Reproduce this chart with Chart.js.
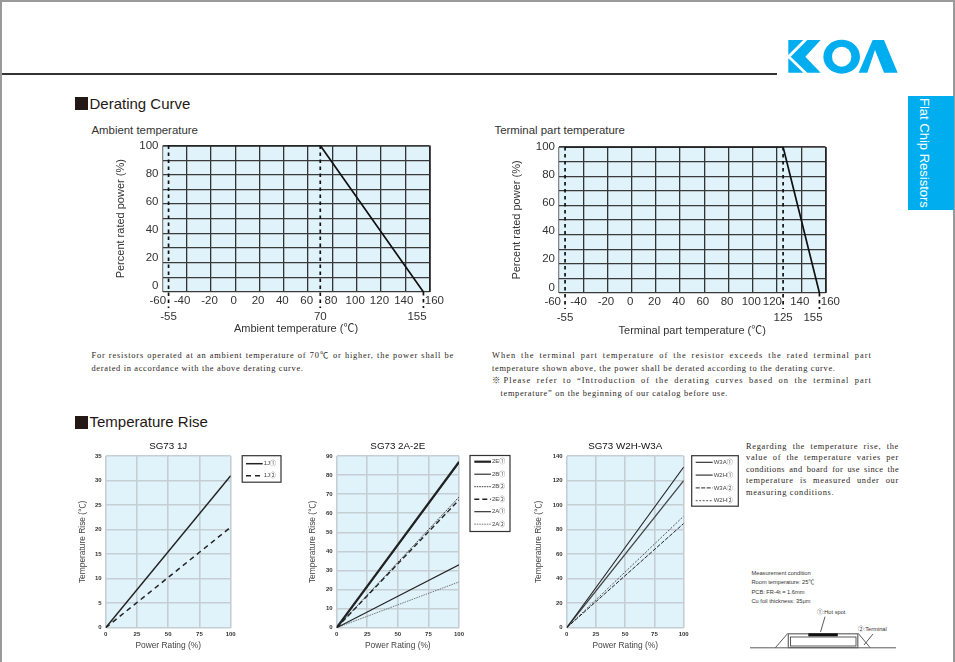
<!DOCTYPE html>
<html>
<head>
<meta charset="utf-8">
<title>Flat Chip Resistors</title>
<script src="https://cdn.jsdelivr.net/npm/chart.js@4"></script>
<style>
  html, body { margin: 0; padding: 0; background: #fff; }
  body { position: relative; width: 955px; height: 662px; overflow: hidden; color: #231815;
         font-family: "Liberation Sans", "Noto Sans CJK JP", sans-serif; }
  .abs { position: absolute; }
  canvas { position: absolute; }
  .edge { position: absolute; background: #9a9a9a; }
  .heading { position: absolute; left: 89.5px; font-size: 15px; line-height: 16px; white-space: nowrap; }
  .square { position: absolute; left: 75px; width: 13px; height: 13px; background: #231815; }
  .sub { position: absolute; font-size: 11.4px; line-height: 13px; white-space: nowrap; color: #333; }
  .note { position: absolute; font-family: "Liberation Serif", "Noto Sans CJK JP", serif; font-size: 8.4px;
          line-height: 11px; white-space: nowrap; color: #2b2622; letter-spacing: .68px; }
  .just { text-align: justify; text-align-last: justify; text-justify: inter-word; white-space: normal; }
  .tab { position: absolute; left: 908px; top: 96px; width: 46px; height: 114px; background: #00aeef; }
  .tab span { position: absolute; left: 7px; top: 2px; writing-mode: vertical-rl; color: #fff; font-size: 13px;
              line-height: 18px; white-space: nowrap; }
</style>
</head>
<body>
<div class="edge" style="left:0;top:0;width:955px;height:2px"></div>
<div class="edge" style="left:0;top:0;width:2px;height:662px"></div>
<div class="edge" style="left:953px;top:0;width:2px;height:662px"></div>
<div class="abs" style="left:2px;top:73px;width:775px;height:2px;background:#333"></div>

<svg class="abs" style="left:760px;top:20px" width="195" height="200" viewBox="0 0 585 600">
  <g fill="#00aeef">
    <polygon points="85,60 130,60 85,105"/>
    <polygon points="85,115 130,158 85,158"/>
    <polygon points="142,60 182,60 136,110 182,158 142,158 92,110"/>
    <path fill-rule="evenodd" d="M190,110a55,51 0 1,0 110,0a55,51 0 1,0 -110,0z M216,110a29,30 0 1,1 58,0a29,30 0 1,1 -58,0z"/>
    <polygon points="296,158 338,60 372,60 413,158 372,158 345,90 322,158"/>
  </g>
</svg>
<div class="tab"><span>Flat Chip Resistors</span></div>

<div class="square" style="top:97px"></div>
<div class="heading" style="top:96px">Derating Curve</div>
<div class="sub" style="left:91.5px;top:124px">Ambient temperature</div>
<div class="sub" style="left:494.5px;top:124px">Terminal part temperature</div>

<div class="note just" style="left:91.5px;top:349.5px;width:362.5px;letter-spacing:.8px">For resistors operated at an ambient temperature of 70℃ or higher, the power shall be</div>
<div class="note" style="left:91.5px;top:362.5px">derated in accordance with the above derating curve.</div>
<div class="note just" style="left:492px;top:349.5px;width:380px;letter-spacing:1.05px">When the terminal part temperature of the resistor exceeds the rated terminal part</div>
<div class="note" style="left:492px;top:362.5px">temperature shown above, the power shall be derated according to the derating curve.</div>
<div class="note just" style="left:492px;top:374.5px;width:380px;letter-spacing:1.05px">※Please refer to “Introduction of the derating curves based on the terminal part</div>
<div class="note" style="left:500.5px;top:387.5px">temperature” on the beginning of our catalog before use.</div>

<div class="square" style="top:415.5px"></div>
<div class="heading" style="top:414px">Temperature Rise</div>

<div class="note just" style="left:746px;top:440.5px;width:153px;letter-spacing:.7px">Regarding the temperature rise, the</div>
<div class="note just" style="left:746px;top:452px;width:153px;letter-spacing:.7px">value of the temperature varies per</div>
<div class="note just" style="left:746px;top:463.5px;width:153px;letter-spacing:.4px">conditions and board for use since the</div>
<div class="note just" style="left:746px;top:475px;width:153px;letter-spacing:.7px">temperature is measured under our</div>
<div class="note" style="left:746px;top:486.5px">measuring conditions.</div>

<svg class="abs" style="left:740px;top:560px" width="215" height="102" viewBox="740 560 215 102"
     font-family="Liberation Sans, Noto Sans CJK JP, sans-serif" font-size="5.7" fill="#333">
  <text x="751.5" y="575.3">Measurement condition</text>
  <text x="751.5" y="584.3">Room temperature: 25℃</text>
  <text x="751.5" y="593.6">PCB: FR-4t = 1.6mm</text>
  <text x="751.5" y="602.6">Cu foil thickness: 35μm</text>
  <text x="817" y="613.7">①:Hot spot</text>
  <text x="858" y="631">②:Terminal</text>
  <g fill="none" stroke="#333" stroke-width=".8">
    <line x1="750" y1="647.8" x2="896" y2="647.8"/>
    <line x1="787.7" y1="633.5" x2="775.5" y2="647.5"/>
    <line x1="858.3" y1="633.5" x2="870" y2="647.5"/>
    <line x1="825" y1="616.7" x2="820.5" y2="632"/>
    <line x1="873" y1="634" x2="864" y2="645"/>
    <rect x="788.3" y="633.8" width="69.5" height="13.8" stroke="#666" stroke-width="1.2"/>
    <rect x="790.5" y="637" width="65.5" height="9" stroke="#333"/>
  </g>
  <rect x="808.3" y="633.3" width="29.5" height="3" fill="#111"/>
</svg>

<canvas id="ambientChart" style="left:100px;top:135px" width="350" height="210"></canvas>
<canvas id="terminalChart" style="left:500px;top:135px" width="345" height="210"></canvas>
<canvas id="chart1J" style="left:70px;top:438px" width="215" height="216"></canvas>
<canvas id="chart2A" style="left:300px;top:438px" width="215" height="216"></canvas>
<canvas id="chartW" style="left:530px;top:438px" width="212" height="216"></canvas>

<script>
// Derating curves
const tempTicks = [-60, -40, -20, 0, 20, 40, 60, 80, 100, 120, 140, 160];
const ambientTickLabels = ["-60  ", "-40  ", "-20", "0", "20", "40", "60", "80", "100", "120", "140", "    160"];
const terminalTickLabels = ["-60   ", "-40  ", "-20", "0", "20", "40", "60", "80", "100", "120  ", "140", "    160"];
const powerLabelTicks = [0, 20, 40, 60, 80, 100];

const ambientRatedX = [-55, 70, 155];
const terminalRatedX = [-55, 125, 155];
const ratedPower = [100, 100, 0];
const ambientMarkLabels = ["-55", "70", "155    "];
const terminalMarkLabels = ["-55", "125", "155    "];
// how far the dashed guides run: top and bottom of each guide
const guideTop = [100, 100, 0];
const guideBottom = [-11, -11, -11];

// Temperature rise
const powerRating = [0, 100];
const rise1J = { "1J①": [0, 31], "1J②": [0, 20.5] };
const rise2A = { "2E①": [0, 87], "2B①": [0, 86.5], "2B②": [0, 68.5], "2E②": [0, 67], "2A①": [0, 33], "2A②": [0, 24] };
const riseW = { "W3A①": [0, 131], "W2H①": [0, 120], "W3A②": [0, 85], "W2H②": [0, 91] };

const inkColor = "#333";
const plotFill = "#e0f2fa";
const sans = "'Liberation Sans', 'Noto Sans CJK JP', sans-serif";

const plotBackground = {
    id: "plotBackground",
    beforeDraw(chart) {
        const a = chart.chartArea;
        chart.ctx.save();
        chart.ctx.fillStyle = plotFill;
        chart.ctx.fillRect(a.left, a.top, a.width, a.height);
        chart.ctx.restore();
    }
};

// the boxed legend sits beside the plot, at the top
const boxLegend = {
    id: "boxLegend",
    afterDraw(chart, args, opts) {
        if (!opts.box) return;
        const ctx = chart.ctx;
        const b = opts.box;
        ctx.save();
        ctx.strokeStyle = "#333";
        ctx.lineWidth = 1.2;
        ctx.strokeRect(b[0], b[1], b[2], b[3]);
        ctx.font = "6px " + sans;
        ctx.textBaseline = "middle";
        chart.data.datasets.forEach(function(ds, i) {
            const y = opts.rowY + i * opts.rowStep;
            ctx.strokeStyle = ds.borderColor;
            ctx.lineWidth = ds.borderWidth;
            ctx.setLineDash(ds.borderDash || []);
            ctx.beginPath();
            ctx.moveTo(opts.lineX[0], y);
            ctx.lineTo(opts.lineX[1], y);
            ctx.stroke();
            ctx.setLineDash([]);
            ctx.fillStyle = "#444";
            ctx.fillText(ds.label, opts.lineX[1] + 1, y);
        });
        ctx.restore();
    }
};

Chart.register(plotBackground, boxLegend);

function fixWidth(w) {
    return function(scale) {
        scale.width = w;
        scale.paddingLeft = scale.paddingRight = scale.paddingTop = scale.paddingBottom = 0;
    };
}

function fixHeight(h) {
    return function(scale) {
        scale.height = h;
        scale.paddingLeft = scale.paddingRight = scale.paddingTop = scale.paddingBottom = 0;
    };
}

function setTicks(values) {
    return function(scale) {
        scale.ticks = values.map(v => ({ value: v }));
    };
}

function deratingChart(id, s) {
    const line = s.ratedX.map((x, i) => ({ x: x, y: ratedPower[i] }));
    const guides = s.ratedX.map(function(x, i) {
        return {
            data: [{ x: x, y: guideTop[i] }, { x: x, y: guideBottom[i] }],
            borderColor: "#111", borderWidth: 1.7, borderDash: [3.5, 3.5],
            pointRadius: 0, clip: false
        };
    });
    new Chart(document.getElementById(id), {
        type: "line",
        data: {
            datasets: [{ data: line, borderColor: "#111", borderWidth: 1.7, pointRadius: 0 }].concat(guides)
        },
        options: {
            responsive: false,
            animation: false,
            layout: { padding: s.padding },
            plugins: { legend: { display: false }, tooltip: { enabled: false } },
            scales: {
                x: {
                    type: "linear", min: -60, max: 160, weight: 0,
                    afterBuildTicks: setTicks(tempTicks),
                    afterFit: fixHeight(16),
                    border: { display: false },
                    grid: {
                        drawTicks: false,
                        color: ctx => ctx.tick.value === -60 ? "#888" : (ctx.tick.value === 160 ? "#222" : "#333"),
                        lineWidth: ctx => ctx.tick.value === 160 ? 1.8 : 1.3
                    },
                    ticks: {
                        padding: 2, maxRotation: 0, autoSkip: false, color: inkColor,
                        font: { family: sans, size: 11.5 }, labelOffset: -1.5,
                        callback: (v, i) => s.tickLabels[i]
                    }
                },
                x2: {
                    type: "linear", axis: "x", position: "bottom", min: -60, max: 160, weight: 1,
                    afterBuildTicks: setTicks(s.ratedX),
                    afterFit: fixHeight(s.x2Height),
                    border: { display: false },
                    grid: { display: false, drawTicks: false },
                    ticks: {
                        padding: 2, maxRotation: 0, autoSkip: false, color: inkColor,
                        font: { family: sans, size: 11.5 },
                        callback: (v, i) => s.markLabels[i]
                    },
                    title: {
                        display: true, text: s.xTitle, color: inkColor, padding: 0,
                        font: { family: sans, size: 11 }
                    }
                },
                y: {
                    type: "linear", min: 0, max: 100, weight: 0,
                    afterFit: fixWidth(0),
                    border: { display: false },
                    grid: {
                        drawTicks: false,
                        color: "#3a3a3a",
                        lineWidth: ctx => ctx.tick.value === 100 ? 1.7 : 1.3
                    },
                    ticks: { stepSize: 10, display: false }
                },
                yLabels: {
                    type: "linear", axis: "y", position: "left", min: s.labelRange[0], max: s.labelRange[1], weight: 1,
                    afterBuildTicks: setTicks(powerLabelTicks),
                    afterFit: fixWidth(s.yWidth),
                    border: { display: false },
                    grid: { display: false, drawTicks: false },
                    ticks: {
                        padding: 4, autoSkip: false, color: inkColor,
                        font: { family: sans, size: 11.5 },
                        callback: v => String(v)
                    },
                    title: {
                        display: true, text: "Percent rated power (%)", color: inkColor, padding: 0,
                        font: { family: sans, size: 11 }
                    }
                }
            }
        }
    });
}

function riseChart(id, s) {
    const datasets = Object.keys(s.series).map(function(name, i) {
        return Object.assign({
            label: name,
            data: s.series[name].map((v, j) => ({ x: powerRating[j], y: v })),
            pointRadius: 0
        }, s.styles[i]);
    });
    new Chart(document.getElementById(id), {
        type: "line",
        data: { datasets: datasets },
        options: {
            responsive: false,
            animation: false,
            layout: { padding: s.padding },
            plugins: {
                legend: { display: false },
                tooltip: { enabled: false },
                boxLegend: s.legend,
                title: {
                    display: true, text: s.title, color: "#111", fullSize: false,
                    padding: { top: 0, bottom: s.titleGap },
                    font: { family: sans, size: 9.8, weight: "normal", lineHeight: 1.2 }
                }
            },
            scales: {
                x: {
                    type: "linear", min: 0, max: 100,
                    afterFit: fixHeight(23.5),
                    border: { display: false },
                    grid: { drawTicks: false, color: "#c5ced3", lineWidth: 1.6 },
                    ticks: {
                        stepSize: 25, padding: 3, maxRotation: 0, color: "#333",
                        font: { family: sans, size: 6, weight: "bold" }
                    },
                    title: {
                        display: true, text: "Power Rating (%)", color: "#444", padding: 0,
                        font: { family: sans, size: 8.4 }
                    }
                },
                y: {
                    type: "linear", min: 0, max: s.yMax,
                    afterFit: fixWidth(s.yWidth),
                    border: { display: false },
                    grid: { drawTicks: false, color: "#c5ced3", lineWidth: 1.6 },
                    ticks: {
                        stepSize: s.yStep, padding: 4, color: "#333",
                        font: { family: sans, size: 6, weight: "bold" }
                    },
                    title: {
                        display: true, text: "Temperature Rise (℃)", color: "#444", padding: 0,
                        font: { family: sans, size: 8.4 }
                    }
                }
            }
        }
    });
}

deratingChart("ambientChart", {
    ratedX: ambientRatedX,
    tickLabels: ambientTickLabels,
    markLabels: ambientMarkLabels,
    xTitle: "Ambient temperature (℃)",
    labelRange: [-4.25, 100],
    yWidth: 48.4,
    x2Height: 28,
    padding: { left: 14.1, right: 20.5, top: 10.5, bottom: 9 }
});

deratingChart("terminalChart", {
    ratedX: terminalRatedX,
    tickLabels: terminalTickLabels,
    markLabels: terminalMarkLabels,
    xTitle: "Terminal part temperature (℃)",
    labelRange: [-4, 100],
    yWidth: 48.4,
    x2Height: 29,
    padding: { left: 10.6, right: 19.5, top: 12, bottom: 7 }
});

const thin = { borderColor: "#222", borderWidth: 1.1 };

riseChart("chart1J", {
    title: "SG73 1J",
    series: rise1J,
    styles: [
        { borderColor: "#222", borderWidth: 1.5 },
        { borderColor: "#222", borderWidth: 1.5, borderDash: [5, 4] }
    ],
    yMax: 35, yStep: 5, yWidth: 28.4, titleGap: 4.3,
    padding: { left: 7.3, right: 54.3, top: 2, bottom: 2.8 },
    legend: { box: [172.2, 17.7, 38.8, 26.5], rowY: 25.7, rowStep: 12, lineX: [176, 192.7] }
});

riseChart("chart2A", {
    title: "SG73 2A-2E",
    series: rise2A,
    styles: [
        { borderColor: "#222", borderWidth: 2.2 },
        thin,
        { borderColor: "#333", borderWidth: 1, borderDash: [1.5, 1] },
        { borderColor: "#222", borderWidth: 1.4, borderDash: [5, 3] },
        thin,
        { borderColor: "#666", borderWidth: .9, borderDash: [1.5, 1] }
    ],
    yMax: 90, yStep: 10, yWidth: 29, titleGap: 4.3,
    padding: { left: 7.7, right: 56, top: 2, bottom: 2.8 },
    legend: { box: [170, 17.5, 40, 76], rowY: 23.7, rowStep: 12.5, lineX: [174.3, 191] }
});

riseChart("chartW", {
    title: "SG73 W2H-W3A",
    series: riseW,
    styles: [
        thin,
        { borderColor: "#444", borderWidth: 1.3 },
        { borderColor: "#222", borderWidth: 1, borderDash: [4, 1.5] },
        { borderColor: "#555", borderWidth: 1, borderDash: [2, 1.5] }
    ],
    yMax: 140, yStep: 20, yWidth: 32.7, titleGap: 4.3,
    padding: { left: 4, right: 58.3, top: 2, bottom: 2.8 },
    legend: { box: [161.7, 17.7, 46.6, 50.5], rowY: 24.3, rowStep: 12.8, lineX: [165.7, 182.7] }
});
</script>
</body>
</html>
